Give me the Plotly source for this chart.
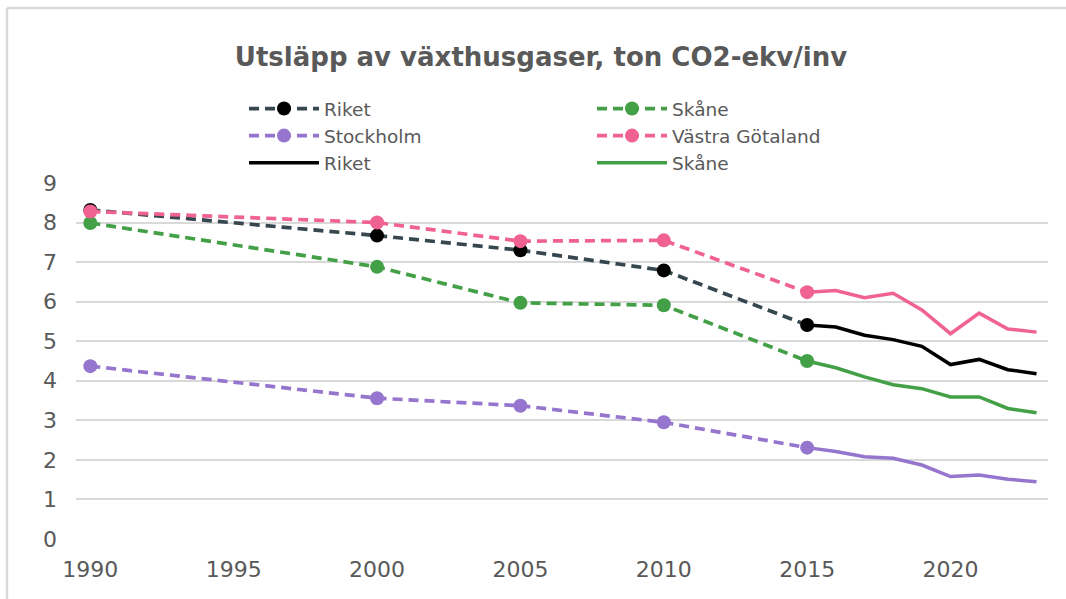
import plotly.graph_objects as go

# Historical (dashed, with markers)
years_hist = [1990, 2000, 2005, 2010, 2015]
riket_hist = [8.32, 7.67, 7.30, 6.79, 5.41]
skane_hist = [7.99, 6.88, 5.97, 5.91, 4.50]
stockholm_hist = [4.37, 3.56, 3.37, 2.95, 2.31]
vg_hist = [8.28, 8.00, 7.53, 7.55, 6.24]

# Annual (solid)
years_annual = [2015, 2016, 2017, 2018, 2019, 2020, 2021, 2022, 2023]
riket_annual = [5.41, 5.36, 5.15, 5.04, 4.87, 4.41, 4.54, 4.28, 4.18]
skane_annual = [4.50, 4.33, 4.10, 3.90, 3.80, 3.59, 3.59, 3.30, 3.19]
stockholm_annual = [2.31, 2.21, 2.08, 2.04, 1.87, 1.58, 1.62, 1.51, 1.45]
vg_annual = [6.24, 6.28, 6.10, 6.21, 5.79, 5.19, 5.71, 5.31, 5.23]

title_text = "Utsläpp av växthusgaser, ton CO2-ekv/inv"
x_ticks = [1990, 1995, 2000, 2005, 2010, 2015, 2020]
y_ticks = [0, 1, 2, 3, 4, 5, 6, 7, 8, 9]

C_RIKET_LINE = "#37474F"
C_RIKET_MARK = "#000000"
C_GREEN = "#43A047"
C_PURPLE = "#9575CD"
C_PINK = "#F06292"
FONT = "DejaVu Sans"
GREY_TXT = "#595959"
DASH = "10px,6px"

fig = go.Figure()

def dashed(name, x, y, line_c, mark_c):
    fig.add_trace(go.Scatter(
        x=x, y=y, name=name, mode="lines+markers",
        line=dict(color=line_c, width=3.7, dash=DASH),
        marker=dict(color=mark_c, size=14),
    ))

def solid(name, x, y, c, show):
    fig.add_trace(go.Scatter(
        x=x, y=y, name=name, mode="lines", showlegend=show,
        line=dict(color=c, width=3.5),
    ))

# Order matched to legend (row-major, 2 columns)
dashed("Riket", years_hist, riket_hist, C_RIKET_LINE, C_RIKET_MARK)
dashed("Skåne", years_hist, skane_hist, C_GREEN, C_GREEN)
dashed("Stockholm", years_hist, stockholm_hist, C_PURPLE, C_PURPLE)
dashed("Västra Götaland", years_hist, vg_hist, C_PINK, C_PINK)
solid("Riket", years_annual, riket_annual, "#000000", True)
solid("Skåne", years_annual, skane_annual, C_GREEN, True)
solid("Stockholm", years_annual, stockholm_annual, C_PURPLE, False)
solid("Västra Götaland", years_annual, vg_annual, C_PINK, False)

L, R, T, B = 76, 18, 183, 60
W, H = 1066, 599
pw = W - L - R
ph = H - T - B

def px_to_paper_x(px):
    return (px - L) / pw

def px_to_paper_y(py):
    return (H - B - py) / ph

fig.update_layout(
    width=W, height=H,
    margin=dict(l=L, r=R, t=T, b=B, autoexpand=False),
    paper_bgcolor="white", plot_bgcolor="white",
    font=dict(family=FONT, size=20, color=GREY_TXT),
    title=dict(text="<b>" + title_text + "</b>", x=541 / W, xref="container",
               xanchor="center", y=1 - 57 / H, yref="container", yanchor="middle",
               font=dict(family=FONT, size=26, color=GREY_TXT)),
    legend=dict(orientation="h", x=px_to_paper_x(244), xanchor="left",
                y=px_to_paper_y(90), yanchor="top",
                entrywidth=263, entrywidthmode="pixels", itemwidth=70,
                font=dict(family=FONT, size=18.5, color=GREY_TXT),
                bgcolor="rgba(0,0,0,0)", traceorder="normal"),
    xaxis=dict(range=[1989.5, 2023.4], tickvals=x_ticks, showgrid=False,
               zeroline=False, showline=False, ticks="", ticklabelstandoff=15,
               tickfont=dict(size=22, color=GREY_TXT)),
    yaxis=dict(range=[0, 9], tickvals=y_ticks, showgrid=True, gridcolor="#D9D9D9",
               gridwidth=2, zeroline=False, showline=False, ticks="",
               ticklabelstandoff=18, tickfont=dict(size=22, color=GREY_TXT)),
    showlegend=True,
    shapes=[
        dict(type="line", xref="paper", yref="paper",
             x0=px_to_paper_x(7), x1=px_to_paper_x(1066),
             y0=px_to_paper_y(8), y1=px_to_paper_y(8),
             line=dict(color="#D9D9D9", width=2.5)),
        dict(type="line", xref="paper", yref="paper",
             x0=px_to_paper_x(7), x1=px_to_paper_x(7),
             y0=px_to_paper_y(8), y1=px_to_paper_y(599),
             line=dict(color="#D9D9D9", width=2.5)),
    ],
)

fig.write_html("out.html", config={"displayModeBar": False},
               post_script="document.body.style.margin='0px';document.body.style.overflow='hidden';")
